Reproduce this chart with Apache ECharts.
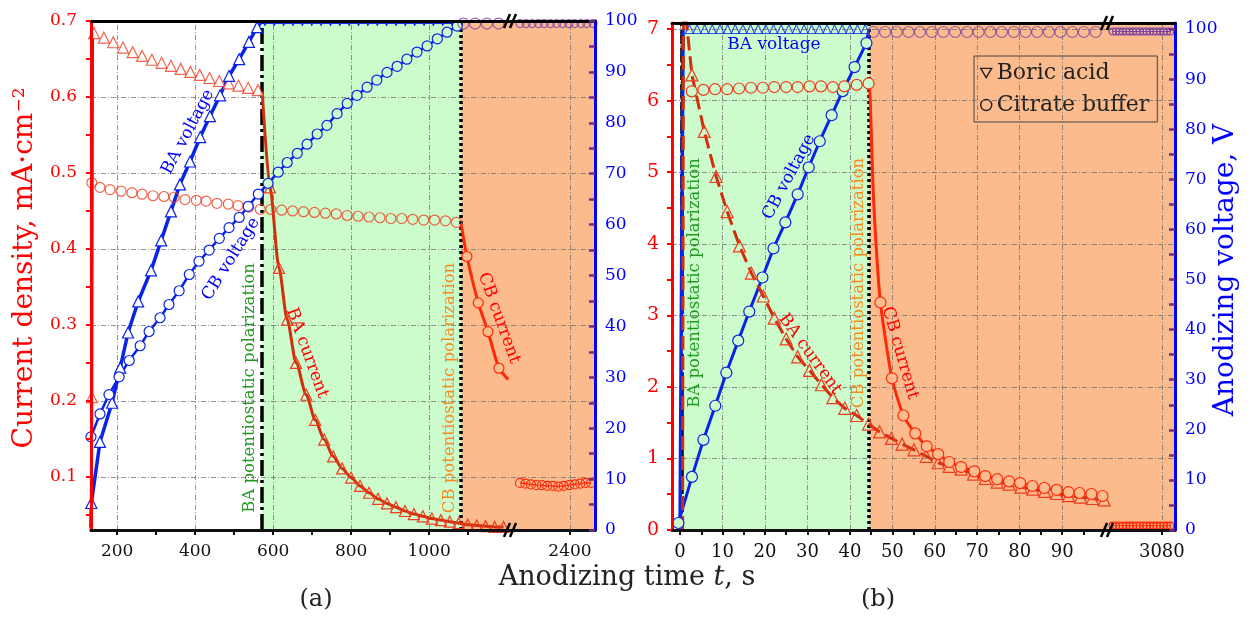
<!DOCTYPE html>
<html><head><meta charset="utf-8">
<script src="https://cdn.jsdelivr.net/npm/echarts@6/dist/echarts.min.js"></script>
<style>html,body{margin:0;padding:0;background:#fff}#c{width:1250px;height:617px}</style>
</head><body><div id="c"></div>
<script>
// ---------------- tick / label values ----------------
const aTimeLabels = [200, 400, 600, 800, 1000];
const aTimeTicks = [200, 300, 400, 500, 600, 700, 800, 900, 1000, 1100];
const aLateTimeLabels = [2400];
const aCurrentLabels = [0.1, 0.2, 0.3, 0.4, 0.5, 0.6, 0.7];
const aCurrentTicks = [0.05, 0.1, 0.15, 0.2, 0.25, 0.3, 0.35, 0.4, 0.45, 0.5, 0.55, 0.6, 0.65, 0.7];
const voltageLabels = [0, 10, 20, 30, 40, 50, 60, 70, 80, 90, 100];
const voltageTicks = [0, 5, 10, 15, 20, 25, 30, 35, 40, 45, 50, 55, 60, 65, 70, 75, 80, 85, 90, 95, 100];
const bTimeLabels = [0, 10, 20, 30, 40, 50, 60, 70, 80, 90];
const bTimeTicks = [0, 5, 10, 15, 20, 25, 30, 35, 40, 45, 50, 55, 60, 65, 70, 75, 80, 85, 90, 95];
const bLateTimeLabels = [3080];
const bCurrentLabels = [0, 1, 2, 3, 4, 5, 6, 7];
const bCurrentTicks = [0, 0.5, 1, 1.5, 2, 2.5, 3, 3.5, 4, 4.5, 5, 5.5, 6, 6.5, 7];

// phase boundaries (s): start of BA potentiostatic, start of CB potentiostatic
const aPhaseTimes = [572, 1082];
const bPhaseTimes = [0.5, 44.5];

// ---------------- panel (a) data: [time s, value] ----------------
const aBaCurrentRise = [[133.5, 0.03], [135, 0.205], [137, 0.684], [141, 0.684]];
const aBaCurrentGalv = [[135, 0.205], [141, 0.684], [166, 0.678], [190, 0.672], [215, 0.665], [240, 0.659], [264, 0.654], [289, 0.649], [314, 0.645], [338, 0.641], [363, 0.637], [388, 0.633], [412, 0.629], [437, 0.625], [462, 0.621], [486, 0.618], [511, 0.615], [536, 0.612], [561, 0.609]];
const aBaCurrentPot = [[572, 0.607], [592, 0.481], [615, 0.375], [636, 0.307], [659, 0.250], [685, 0.208], [708, 0.175], [731, 0.149], [754, 0.127], [777, 0.111], [800, 0.099], [823, 0.088], [846, 0.079], [869, 0.071], [892, 0.065], [915, 0.060], [938, 0.055], [961, 0.051], [984, 0.048], [1007, 0.045], [1030, 0.043], [1053, 0.041], [1076, 0.039], [1099, 0.037], [1122, 0.036], [1145, 0.035], [1168, 0.034], [1191, 0.034]];
const aCbCurrentGalv = [[135, 0.487], [156, 0.481], [182, 0.478], [210, 0.476], [238, 0.474], [264, 0.472], [292, 0.470], [320, 0.469], [346, 0.468], [374, 0.465], [403, 0.464], [428, 0.463], [456, 0.460], [485, 0.459], [510, 0.457], [538, 0.455], [567, 0.452], [594, 0.452], [622, 0.451], [650, 0.450], [678, 0.449], [706, 0.448], [734, 0.447], [762, 0.446], [790, 0.444], [818, 0.443], [846, 0.442], [874, 0.441], [902, 0.440], [930, 0.440], [958, 0.439], [986, 0.438], [1014, 0.438], [1042, 0.437], [1070, 0.435]];
const aCbCurrentPot = [[1082, 0.433], [1097, 0.390], [1126, 0.329], [1151, 0.291], [1179, 0.243], [1203, 0.228]];
const aCbCurrentLate = [[2272, 0.092], [2286, 0.091], [2300, 0.090], [2314, 0.089], [2328, 0.089], [2342, 0.088], [2356, 0.088], [2370, 0.087], [2384, 0.088], [2398, 0.089], [2412, 0.090], [2426, 0.091], [2440, 0.092], [2454, 0.092]];
const aBaVoltageRamp = [[133, 0.5], [134, 5.3], [156, 17.3], [187, 25.0], [208, 31.9], [228, 38.8], [254, 44.9], [287, 51.0], [313, 56.9], [338, 62.6], [361, 67.9], [387, 72.4], [413, 77.2], [438, 81.3], [464, 85.4], [487, 89.2], [513, 92.5], [538, 95.9], [559, 98.8], [572, 100]];
const aBaVoltageHold = [[579, 99.5], [603, 99.5], [627, 99.5], [651, 99.5], [675, 99.5], [699, 99.5], [723, 99.5], [747, 99.5], [771, 99.5], [795, 99.5], [819, 99.5], [843, 99.5], [867, 99.5], [891, 99.5], [915, 99.5], [939, 99.5], [963, 99.5], [987, 99.5], [1011, 99.5], [1035, 99.5], [1059, 99.5]];
const aCbVoltageRamp = [[133, 18.3], [156, 22.8], [179, 26.6], [205, 30.1], [231, 33.3], [259, 36.2], [282, 39.0], [310, 41.7], [333, 44.3], [359, 47.0], [385, 50.2], [410, 52.8], [436, 55.0], [462, 57.3], [487, 59.4], [513, 61.4], [536, 63.6], [562, 66.0], [587, 68.1], [613, 70.3], [636, 72.2], [662, 74.0], [687, 75.8], [713, 77.8], [738, 79.5], [764, 81.8], [790, 83.8], [815, 85.4], [841, 87.0], [866, 88.4], [892, 89.9], [918, 91.1], [943, 92.5], [969, 93.9], [995, 95.1], [1021, 96.5], [1046, 97.8], [1072, 99.0], [1082, 99.6]];
const aCbVoltageHold = [[1088, 99.5], [1118, 99.5], [1148, 99.5], [1178, 99.5]];
const aCbVoltageLate = [[2272, 99.5], [2288, 99.5], [2303, 99.5], [2319, 99.5], [2334, 99.5], [2350, 99.5], [2366, 99.5], [2381, 99.5], [2397, 99.5], [2412, 99.5], [2428, 99.5], [2443, 99.5], [2459, 99.5]];

// ---------------- panel (b) data ----------------
const bBaCurrent = [[0.6, 0.0], [0.8, 7.5], [2.8, 6.36], [5.7, 5.57], [8.5, 4.94], [11.1, 4.45], [14.0, 3.97], [16.8, 3.59], [19.6, 3.27], [22.2, 2.96], [25.0, 2.67], [27.7, 2.42], [30.5, 2.23], [33.3, 2.03], [36.0, 1.85], [38.8, 1.70], [41.6, 1.60], [44.4, 1.48], [47.0, 1.37], [49.8, 1.28], [52.3, 1.20], [55.1, 1.12], [58.0, 1.03], [60.8, 0.94], [63.4, 0.89], [66.2, 0.85], [69.1, 0.78], [71.9, 0.72], [74.7, 0.67], [77.5, 0.64], [80.3, 0.60], [83.1, 0.57], [85.9, 0.54], [88.7, 0.51], [91.5, 0.48], [94.3, 0.46], [97.1, 0.44], [99.9, 0.42]];
const bCbCurrentPlateau = [[2.75, 6.13], [5.5, 6.15], [8.25, 6.16], [11.1, 6.16], [13.9, 6.17], [16.7, 6.18], [19.5, 6.18], [22.2, 6.19], [25.0, 6.19], [27.7, 6.19], [30.5, 6.20], [33.2, 6.20], [36.0, 6.19], [38.7, 6.20], [41.6, 6.22], [44.4, 6.24]];
const bCbCurrentDecay = [[44.6, 6.24], [44.8, 6.0], [45.6, 4.6], [47.2, 3.18], [49.9, 2.12], [52.6, 1.60], [55.4, 1.35], [58.1, 1.17], [60.8, 1.06], [63.4, 0.95], [66.2, 0.88], [69.3, 0.82], [71.9, 0.754], [74.7, 0.71], [77.5, 0.68], [80.1, 0.656], [83.0, 0.615], [85.8, 0.587], [88.7, 0.56], [91.5, 0.53], [94.1, 0.517], [96.9, 0.503], [99.5, 0.475]];
const bCbCurrentLate = [[3068.4, 0.06], [3069.2, 0.06], [3070.0, 0.06], [3070.8, 0.06], [3071.6, 0.06], [3072.4, 0.06], [3073.2, 0.06], [3074.0, 0.06], [3074.8, 0.06], [3075.6, 0.06], [3076.4, 0.06], [3077.2, 0.06], [3078.0, 0.06], [3078.8, 0.06], [3079.6, 0.06], [3080.4, 0.06], [3081.2, 0.06], [3082.0, 0.06]];
const bBaVoltageRamp = [[0, 0], [0.7, 100]];
const bBaVoltageHold = [[2.2, 100], [4.0, 100], [5.8, 100], [7.6, 100], [9.4, 100], [11.2, 100], [13.0, 100], [14.8, 100], [16.6, 100], [18.4, 100], [20.2, 100], [22.0, 100], [23.8, 100], [25.6, 100], [27.4, 100], [29.2, 100], [31.0, 100], [32.8, 100], [34.6, 100], [36.4, 100], [38.2, 100], [40.0, 100], [41.8, 100], [43.6, 100]];
const bCbVoltageRamp = [[-0.4, 1.4], [2.8, 10.6], [5.5, 18.0], [8.3, 24.8], [10.9, 31.4], [13.7, 37.8], [16.3, 43.6], [19.4, 50.4], [22.0, 56.2], [24.8, 61.4], [27.7, 67.0], [30.3, 72.4], [32.9, 77.6], [35.7, 82.8], [38.3, 87.6], [41.1, 92.4], [43.9, 97.2], [44.5, 100]];
const bCbVoltageHold = [[45.5, 99.4], [48.3, 99.4], [51.0, 99.4], [53.8, 99.4], [56.5, 99.4], [59.3, 99.4], [62.0, 99.4], [64.8, 99.4], [67.6, 99.4], [70.3, 99.4], [73.1, 99.4], [75.8, 99.4], [78.6, 99.4], [81.4, 99.4], [84.1, 99.4], [86.9, 99.4], [89.6, 99.4], [92.4, 99.4], [95.1, 99.4], [97.9, 99.4]];
const bCbVoltageLate = [[3068.4, 99.5], [3069.2, 99.5], [3070.0, 99.5], [3070.8, 99.5], [3071.6, 99.5], [3072.4, 99.5], [3073.2, 99.5], [3074.0, 99.5], [3074.8, 99.5], [3075.6, 99.5], [3076.4, 99.5], [3077.2, 99.5], [3078.0, 99.5], [3078.8, 99.5], [3079.6, 99.5], [3080.4, 99.5], [3081.2, 99.5], [3082.0, 99.5]];

// ---------------- axis ranges ----------------
const aRange = { tMin: 133, tMax: 1210, lateMin: 2249, lateMax: 2464, iMin: 0.03, iMax: 0.7, vMin: 0, vMax: 100 };
const bRange = { tMin: -1.9, tMax: 100.8, lateMin: 3067.3, lateMax: 3083.1, iMin: 0, iMax: 7.085, vMin: 0, vMax: 101.2 };

// ---------------- styles ----------------
const SERIF = '"DejaVu Serif", "Liberation Serif", serif';
const GREEN_BG = '#ccfccc', ORANGE_BG = '#fbbb8d';
const RED = '#ff0000', BLUE = '#0000ff', PURPLE = '#6b2d8f';
const BA_I = '#cf2f0c', CB_I = '#ff2a0a', TRI = '#ef3c1e', VOLT = '#0a24e6', HOLD = '#7c44a6';
const GRID_LINE = 'rgba(110,110,110,0.75)';

function fmtNum(v) { return String(Math.round(v * 100) / 100); }

function xBottom(grid, min, max, labels, ticks, fs) {
  return { type: 'value', gridIndex: grid, position: 'bottom', min, max, z: 10,
    axisLine: { show: true, onZero: false, lineStyle: { color: '#111', width: 3 } },
    axisTick: { show: true, inside: false, length: 5, customValues: ticks, lineStyle: { color: '#111', width: 2 } },
    axisLabel: { show: true, customValues: labels, color: '#111', fontSize: fs, fontFamily: SERIF, margin: 13, formatter: fmtNum },
    splitLine: { show: false } };
}
function xTop(grid, min, max) {
  return { type: 'value', gridIndex: grid, position: 'top', min, max, z: 10,
    axisLine: { show: true, onZero: false, lineStyle: { color: '#000', width: 3 } },
    axisTick: { show: false }, axisLabel: { show: false }, splitLine: { show: false } };
}
function yHidden(grid, pos, min, max) {
  return { type: 'value', gridIndex: grid, position: pos, min, max, show: false,
    axisLine: { onZero: false }, splitLine: { show: false } };
}
function yCurrent(grid, min, max, labels, ticks, fs, margin) {
  return { type: 'value', gridIndex: grid, position: 'left', min, max, z: 10,
    axisLine: { show: true, onZero: false, lineStyle: { color: RED, width: 3 } },
    axisTick: { show: true, inside: false, length: 5, customValues: ticks, lineStyle: { color: RED, width: 2 } },
    axisLabel: { show: true, customValues: labels, color: RED, fontSize: fs, fontFamily: SERIF, margin, formatter: fmtNum },
    splitLine: { show: false } };
}
function yVoltage(grid, min, max, fs) {
  return { type: 'value', gridIndex: grid, position: 'right', min, max, z: 10,
    axisLine: { show: true, onZero: false, lineStyle: { color: BLUE, width: 3 } },
    axisTick: { show: true, inside: true, length: 6, customValues: voltageTicks, lineStyle: { color: PURPLE, width: 2.5 } },
    axisLabel: { show: true, customValues: voltageLabels, color: BLUE, fontSize: fs, fontFamily: SERIF, margin: 10, formatter: fmtNum },
    splitLine: { show: false } };
}

function bgSeries(xi, yi, areas) {
  return { type: 'line', data: [], xAxisIndex: xi, yAxisIndex: yi, z: 1, silent: true, animation: false,
    markArea: { silent: true, animation: false,
      data: areas.map(a => [{ xAxis: a[0], itemStyle: { color: a[2], opacity: 1 } }, { xAxis: a[1] }]) } };
}
function gridSeries(xi, yi, xs, ys) {
  return { type: 'line', data: [], xAxisIndex: xi, yAxisIndex: yi, z: 2, silent: true, animation: false,
    markLine: { silent: true, symbol: ['none', 'none'], label: { show: false }, animation: false,
      lineStyle: { color: GRID_LINE, width: 1, type: [5, 2, 1, 2] },
      data: xs.map(v => ({ xAxis: v })).concat(ys.map(v => ({ yAxis: v }))) } };
}
function dividerSeries(xi, yi, lines) {
  return { type: 'line', data: [], xAxisIndex: xi, yAxisIndex: yi, z: 6, silent: true, animation: false,
    markLine: { silent: true, symbol: ['none', 'none'], label: { show: false }, animation: false,
      data: lines.map(l => ({ xAxis: l[0], lineStyle: { color: '#000', width: 3.5, type: l[1] } })) } };
}
function trimEnds(arr, first, last) {
  return arr.map((p, i) => ((first > 0 && i < first) || (last && i === arr.length - 1)) ? { value: p, symbol: 'none' } : p);
}
function S(name, type, data, xi, yi, o) {
  return Object.assign({ name, type, data, xAxisIndex: xi, yAxisIndex: yi, z: 5, animation: false,
    emphasis: { disabled: true }, silent: true, clip: true }, o);
}
const hollow = (c, fill, w) => ({ color: fill || 'rgba(0,0,0,0)', borderColor: c, borderWidth: w || 1.2 });

const series = [
  // ---------- (a) main segment: grid 0, x0, y0 (current) / y1 (voltage) ----------
  bgSeries(0, 0, [[aPhaseTimes[0], aPhaseTimes[1], GREEN_BG], [aPhaseTimes[1], aRange.tMax, ORANGE_BG]]),
  gridSeries(0, 0, aTimeLabels, aCurrentLabels),
  dividerSeries(0, 0, [[aPhaseTimes[0], [16, 4, 3, 4]], [aPhaseTimes[1], [3, 3]]]),
  S('BA current rise', 'line', aBaCurrentRise, 0, 0, { symbol: 'none', lineStyle: { color: RED, width: 3 } }),
  S('BA current (galvanostatic)', 'scatter', aBaCurrentGalv, 0, 0, { symbol: 'triangle', symbolSize: 11, itemStyle: hollow(TRI, '#fff') }),
  S('BA current (potentiostatic)', 'line', trimEnds(aBaCurrentPot, 1, false), 0, 0, { symbol: 'triangle', symbolSize: 11, smooth: 0.25, smoothMonotone: 'x',
    lineStyle: { color: BA_I, width: 3 }, itemStyle: hollow(TRI) }),
  S('CB current (galvanostatic)', 'scatter', aCbCurrentGalv, 0, 0, { symbol: 'circle', symbolSize: 10, itemStyle: hollow(TRI) }),
  S('CB current (potentiostatic)', 'line', trimEnds(aCbCurrentPot, 1, true), 0, 0, { symbol: 'circle', symbolSize: 10, smooth: 0.2,
    lineStyle: { color: CB_I, width: 3 }, itemStyle: hollow(CB_I, ORANGE_BG) }),
  S('BA voltage ramp', 'line', trimEnds(aBaVoltageRamp, 1, true), 0, 1, { symbol: 'triangle', symbolSize: 11,
    lineStyle: { color: VOLT, width: 3.5 }, itemStyle: hollow(VOLT, '#fff') }),
  S('BA voltage hold', 'line', aBaVoltageHold, 0, 1, { symbol: 'triangle', symbolRotate: 180, symbolSize: 6,
    lineStyle: { color: VOLT, width: 1 }, itemStyle: { color: VOLT } }),
  S('CB voltage ramp', 'line', trimEnds(aCbVoltageRamp, 0, true).map(d => Array.isArray(d)
      ? { value: d, itemStyle: { color: d[0] < aPhaseTimes[0] ? '#fff' : GREEN_BG } } : d), 0, 1,
    { symbol: 'circle', symbolSize: 10, lineStyle: { color: VOLT, width: 2.5 }, itemStyle: { borderColor: VOLT, borderWidth: 1.2 } }),
  S('CB voltage hold', 'scatter', aCbVoltageHold, 0, 1, { symbol: 'circle', symbolSize: 11, itemStyle: hollow(HOLD) }),

  // ---------- (a) late segment: grid 1, x1, y2 / y3 ----------
  bgSeries(1, 2, [[aRange.lateMin, aRange.lateMax, ORANGE_BG]]),
  gridSeries(1, 2, aLateTimeLabels, aCurrentLabels),
  S('CB current (late)', 'line', aCbCurrentLate, 1, 2, { symbol: 'circle', symbolSize: 9, lineStyle: { color: CB_I, width: 1.2 }, itemStyle: hollow(CB_I) }),
  S('CB voltage (late)', 'scatter', aCbVoltageLate, 1, 3, { symbol: 'circle', symbolSize: 8, itemStyle: hollow(HOLD) }),

  // ---------- (b) main segment: grid 2, x4, y4 / y5 ----------
  bgSeries(4, 4, [[bPhaseTimes[0], bPhaseTimes[1], GREEN_BG], [bPhaseTimes[1], bRange.tMax, ORANGE_BG]]),
  gridSeries(4, 4, bTimeLabels, bCurrentLabels.filter(v => v > 0)),
  dividerSeries(4, 4, [[bPhaseTimes[0], [14, 4]], [bPhaseTimes[1], [3, 3]]]),
  S('BA voltage ramp b', 'line', bBaVoltageRamp, 4, 5, { symbol: 'none', lineStyle: { color: VOLT, width: 3.5 } }),
  S('BA voltage hold b', 'scatter', bBaVoltageHold, 4, 5, { symbol: 'triangle', symbolSize: [8, 9], itemStyle: hollow(VOLT, 'rgba(0,0,0,0)', 1.1) }),
  S('CB voltage ramp b', 'line', trimEnds(bCbVoltageRamp, 0, true), 4, 5, { symbol: 'circle', symbolSize: 11,
    lineStyle: { color: VOLT, width: 3 }, itemStyle: hollow(VOLT, GREEN_BG) }),
  S('CB voltage hold b', 'scatter', bCbVoltageHold, 4, 5, { symbol: 'circle', symbolSize: 11, itemStyle: hollow(HOLD) }),
  S('BA current b', 'line', trimEnds(bBaCurrent, 2, false), 4, 4, { symbol: 'triangle', symbolSize: 12,
    lineStyle: { color: BA_I, width: 3, type: [14, 6] }, itemStyle: hollow(TRI) }),
  S('CB current plateau b', 'line', bCbCurrentPlateau, 4, 4, { symbol: 'circle', symbolSize: 11,
    lineStyle: { color: BA_I, width: 2 }, itemStyle: hollow(TRI, GREEN_BG) }),
  S('CB current decay b', 'line', trimEnds(bCbCurrentDecay, 3, false), 4, 4, { symbol: 'circle', symbolSize: 11, smooth: 0.2,
    lineStyle: { color: CB_I, width: 3 }, itemStyle: hollow(CB_I, ORANGE_BG) }),

  // ---------- (b) late segment: grid 3, x5, y6 / y7 ----------
  bgSeries(5, 6, [[bRange.lateMin, bRange.lateMax, ORANGE_BG]]),
  gridSeries(5, 6, bLateTimeLabels, bCurrentLabels.filter(v => v > 0)),
  S('CB current (late) b', 'line', bCbCurrentLate, 5, 6, { symbol: 'circle', symbolSize: 7, lineStyle: { color: CB_I, width: 1 }, itemStyle: hollow(CB_I) }),
  S('CB voltage (late) b', 'line', bCbVoltageLate, 5, 7, { symbol: 'circle', symbolSize: 7, lineStyle: { color: HOLD, width: 1 }, itemStyle: hollow(HOLD) }),

  // legend-only entries
  { name: 'Boric acid', type: 'line', data: [], xAxisIndex: 4, yAxisIndex: 4 },
  { name: 'Citrate buffer', type: 'line', data: [], xAxisIndex: 4, yAxisIndex: 4 }
];

function txt(text, x, y, deg, color, size, extra) {
  return { type: 'text', x, y, rotation: deg * Math.PI / 180, z: 100, silent: true,
    style: Object.assign({ text, fill: color, fontSize: size, fontFamily: SERIF,
      align: 'center', verticalAlign: 'middle', textAlign: 'center', textVerticalAlign: 'middle' }, extra || {}) };
}
function brk(x, y) {
  return [
    { type: 'line', z: 100, silent: true, shape: { x1: x - 7, y1: y + 7, x2: x - 1, y2: y - 7 }, style: { stroke: '#000', lineWidth: 2.5 } },
    { type: 'line', z: 100, silent: true, shape: { x1: x - 1, y1: y + 7, x2: x + 5, y2: y - 7 }, style: { stroke: '#000', lineWidth: 2.5 } }
  ];
}

const graphic = [
  // annotations (a)
  txt('BA voltage', 188, 132, 62, BLUE, 17),
  txt('CB voltage', 231, 259, 58, BLUE, 17),
  txt('BA current', 307, 353, -70, RED, 17),
  txt('CB current', 499, 318, -70, RED, 17),
  txt('BA potentiostatic polarization', 250, 388, 90, '#1f9a1f', 16.5),
  txt('CB potentiostatic polarization', 450, 388, 90, '#f78a1e', 16.5),
  // annotations (b)
  txt('BA voltage', 774, 45, 0, BLUE, 17),
  txt('CB voltage', 789, 177, 62, BLUE, 17),
  txt('BA current', 810, 354, -54, RED, 17),
  txt('CB current', 900, 353, -74, RED, 17),
  txt('BA potentiostatic polarization', 695, 283, 90, '#1f9a1f', 16.5),
  txt('CB potentiostatic polarization', 859, 283, 90, '#f78a1e', 16.5),
  // axis titles
  txt('{m|Current density, mA·cm}{s|−2}', 25, 268, 90, RED, 28, {
    rich: { m: { fontSize: 28, fontFamily: SERIF, fill: RED }, s: { fontSize: 17, fontFamily: SERIF, fill: RED, verticalAlign: 'top' } } }),
  txt('Anodizing voltage, V', 1226, 270, 90, BLUE, 28),
  txt('{n|Anodizing time }{i|t}{n|, s}', 627, 578, 0, '#222', 27, {
    rich: { n: { fontSize: 27, fontFamily: SERIF, fill: '#222' }, i: { fontSize: 27, fontFamily: SERIF, fontStyle: 'italic', fill: '#222' } } }),
  txt('(a)', 316, 600, 0, '#222', 24),
  txt('(b)', 878, 600, 0, '#222', 24)
].concat(brk(511, 21), brk(511, 530), brk(1108, 23), brk(1108, 530));

const option = {
  animation: false,
  backgroundColor: '#ffffff',
  grid: [
    { left: 91, top: 21, width: 420, height: 509, outerBoundsMode: 'none' },
    { left: 511, top: 21, width: 84, height: 509, outerBoundsMode: 'none' },
    { left: 672, top: 23, width: 436, height: 507, outerBoundsMode: 'none' },
    { left: 1108, top: 23, width: 67, height: 507, outerBoundsMode: 'none' }
  ],
  xAxis: [
    xBottom(0, aRange.tMin, aRange.tMax, aTimeLabels, aTimeTicks, 17),
    xBottom(1, aRange.lateMin, aRange.lateMax, aLateTimeLabels, aLateTimeLabels, 17),
    xTop(0, aRange.tMin, aRange.tMax),
    xTop(1, aRange.lateMin, aRange.lateMax),
    xBottom(2, bRange.tMin, bRange.tMax, bTimeLabels, bTimeTicks, 18),
    xBottom(3, bRange.lateMin, bRange.lateMax, bLateTimeLabels, bLateTimeLabels, 18),
    xTop(2, bRange.tMin, bRange.tMax),
    xTop(3, bRange.lateMin, bRange.lateMax)
  ],
  yAxis: [
    yCurrent(0, aRange.iMin, aRange.iMax, aCurrentLabels, aCurrentTicks, 17, 14),
    yHidden(0, 'right', aRange.vMin, aRange.vMax),
    yHidden(1, 'left', aRange.iMin, aRange.iMax),
    yVoltage(1, aRange.vMin, aRange.vMax, 17),
    yCurrent(2, bRange.iMin, bRange.iMax, bCurrentLabels, bCurrentTicks, 19, 13),
    yHidden(2, 'right', bRange.vMin, bRange.vMax),
    yHidden(3, 'left', bRange.iMin, bRange.iMax),
    yVoltage(3, bRange.vMin, bRange.vMax, 17)
  ],
  legend: {
    show: true, selectedMode: false, orient: 'vertical', left: 974, top: 56,
    data: [
      { name: 'Boric acid', icon: 'path://M0,0L20,0L10,17Z' },
      { name: 'Citrate buffer', icon: 'circle' }
    ],
    itemWidth: 11, itemHeight: 11, itemGap: 10, padding: [6, 8, 6, 6],
    borderColor: '#444', borderWidth: 1, backgroundColor: 'rgba(0,0,0,0)',
    itemStyle: { color: 'rgba(0,0,0,0)', borderColor: '#222', borderWidth: 1.4 },
    lineStyle: { width: 0 },
    textStyle: { fontFamily: SERIF, fontSize: 22, color: '#222' }
  },
  series,
  graphic
};

const chart = echarts.init(document.getElementById('c'), null, { renderer: 'canvas' });
chart.setOption(option);
</script></body></html>
